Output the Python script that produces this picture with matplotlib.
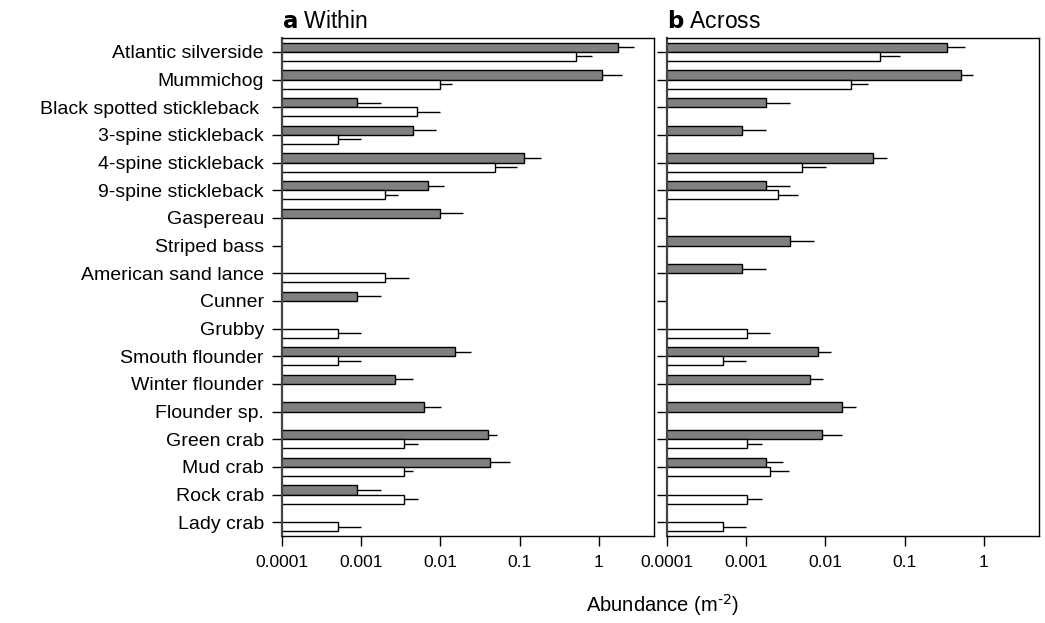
import numpy as np
import matplotlib
matplotlib.use("Agg")
import matplotlib.pyplot as plt

plt.rcParams["font.family"] = ["Liberation Sans", "DejaVu Sans"]

species = ["Atlantic silverside", "Mummichog", "Black spotted stickleback ",
           "3-spine stickleback", "4-spine stickleback", "9-spine stickleback",
           "Gaspereau", "Striped bass", "American sand lance", "Cunner",
           "Grubby", "Smouth flounder", "Winter flounder", "Flounder sp.",
           "Green crab", "Mud crab", "Rock crab", "Lady crab"]

nan = np.nan

# panel a (Within): gray = first series, white = second series; mean and upper error end
within_gray = [1.74, 1.1, 0.00088, 0.00445, 0.115, 0.007, 0.0098, nan, nan, 0.00088,
               nan, 0.0151, 0.00266, 0.00623, 0.040, 0.0424, 0.00088, nan]
within_gray_hi = [2.75, 1.96, 0.0018, 0.0089, 0.188, 0.0112, 0.0195, nan, nan, 0.0018,
                  nan, 0.0242, 0.00445, 0.0101, 0.052, 0.0766, 0.0018, nan]
within_white = [0.52, 0.0099, 0.005, 0.0005, 0.0496, 0.002, nan, nan, 0.002, nan,
                0.0005, 0.0005, nan, nan, 0.0035, 0.0035, 0.0035, 0.0005]
within_white_hi = [0.83, 0.0139, 0.01, 0.001, 0.093, 0.0029, nan, nan, 0.004, nan,
                   0.001, 0.001, nan, nan, 0.0052, 0.0045, 0.0052, 0.001]

# panel b (Across)
across_gray = [0.347, 0.521, 0.00177, 0.00088, 0.0394, 0.00177, nan, 0.00356, 0.00088, nan,
               nan, 0.008, 0.0063, 0.0162, 0.009, 0.00178, nan, nan]
across_gray_hi = [0.574, 0.74, 0.0036, 0.00178, 0.06, 0.0036, nan, 0.0072, 0.00178, nan,
                  nan, 0.0119, 0.0093, 0.0243, 0.016, 0.0029, nan, nan]
across_white = [0.0483, 0.0208, nan, nan, 0.00505, 0.0025, nan, nan, nan, nan,
                0.001, 0.0005, nan, nan, 0.001, 0.002, 0.001, 0.0005]
across_white_hi = [0.087, 0.0345, nan, nan, 0.0101, 0.0045, nan, nan, nan, nan,
                   0.002, 0.001, nan, nan, 0.0016, 0.0035, 0.0016, 0.001]

xticks = [0.0001, 0.001, 0.01, 0.1, 1]
xticklabels = ["0.0001", "0.001", "0.01", "0.1", "1"]

fig = plt.figure(figsize=(10.45, 6.23), dpi=100)
ax_a = fig.add_axes([0.2699, 0.1396, 0.356, 0.7994])
ax_b = fig.add_axes([0.6383, 0.1396, 0.356, 0.7994])

y = np.arange(len(species))
h = 0.33


def draw_panel(ax, gray, gray_hi, white, white_hi):
    gray = np.array(gray)
    white = np.array(white)
    gray_err = np.array(gray_hi) - gray
    white_err = np.array(white_hi) - white
    ax.barh(y - h / 2, gray, height=h, left=1e-5, color="#808080",
            edgecolor="black", linewidth=1.0, zorder=2)
    ax.barh(y + h / 2, white, height=h, left=1e-5, color="white",
            edgecolor="black", linewidth=1.0, zorder=2)
    ax.errorbar(gray, y - h / 2, xerr=[np.zeros(len(y)), gray_err], fmt="none",
                ecolor="black", elinewidth=1.0, capsize=0, zorder=1)
    ax.errorbar(white, y + h / 2, xerr=[np.zeros(len(y)), white_err], fmt="none",
                ecolor="black", elinewidth=1.0, capsize=0, zorder=1)
    ax.set_xscale("log")
    ax.set_xlim(1e-4, 5)
    ax.set_ylim(len(species) - 0.5, -0.5)
    ax.set_xticks(xticks)
    ax.set_xticklabels(xticklabels, fontsize=12.5)
    ax.minorticks_off()
    ax.set_yticks(y)
    ax.tick_params(axis="both", direction="out", length=7, width=1, pad=7)
    ax.tick_params(axis="y", pad=6)
    for s in ax.spines.values():
        s.set_linewidth(1.0)
    ax.spines["left"].set_linewidth(1.6)
    ax.spines["left"].set_color("#444444")


draw_panel(ax_a, within_gray, within_gray_hi, within_white, within_white_hi)
draw_panel(ax_b, across_gray, across_gray_hi, across_white, across_white_hi)

ax_a.set_yticklabels(species, fontsize=14)
ax_b.set_yticklabels([])

ax_a.text(0.0, 1.02, r"$\bf{a}$ Within", transform=ax_a.transAxes, fontsize=16.5,
          ha="left", va="baseline")
ax_b.text(0.0, 1.02, r"$\bf{b}$ Across", transform=ax_b.transAxes, fontsize=16.5,
          ha="left", va="baseline")

fig.text(0.634, 0.018, r"Abundance (m$^{\text{-2}}$)", fontsize=14.5,
         ha="center", va="baseline")

fig.savefig("out.png", dpi=100)
